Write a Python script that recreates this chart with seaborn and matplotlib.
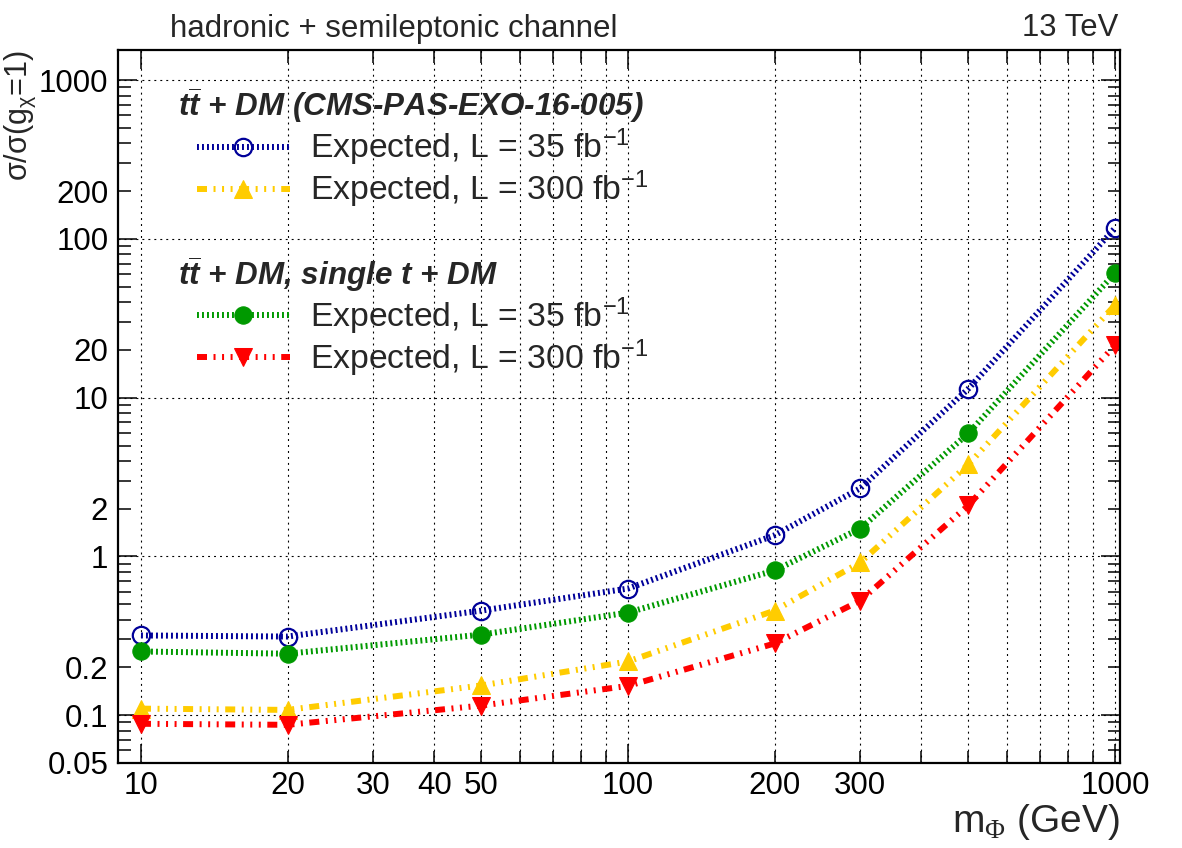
import numpy as np
import pandas as pd
import matplotlib
matplotlib.use("Agg")
import matplotlib.pyplot as plt
import seaborn as sns
from matplotlib.ticker import FixedLocator, FuncFormatter
from matplotlib.lines import Line2D

# ---------------- data ----------------
mass = [10, 20, 50, 100, 200, 300, 500, 1000]
tt_35 = [0.318, 0.313, 0.456, 0.628, 1.36, 2.69, 11.4, 117]
tt_300 = [0.110, 0.108, 0.154, 0.218, 0.456, 0.917, 3.80, 38.3]
comb_35 = [0.252, 0.244, 0.322, 0.443, 0.816, 1.50, 5.97, 61.0]
comb_300 = [0.0883, 0.087, 0.115, 0.153, 0.283, 0.527, 2.10, 21.4]

x_major = [10, 100, 1000]
x_minor = [20, 30, 40, 50, 60, 70, 80, 90, 200, 300, 400, 500, 600, 700, 800, 900]
x_minor_labels = [20, 30, 40, 50, 200, 300]
y_major = [0.1, 1, 10, 100, 1000]
y_minor = [0.05, 0.06, 0.07, 0.08, 0.09, 0.2, 0.3, 0.4, 0.5, 0.6, 0.7, 0.8, 0.9,
           2, 3, 4, 5, 6, 7, 8, 9, 20, 30, 40, 50, 60, 70, 80, 90,
           200, 300, 400, 500, 600, 700, 800, 900]
y_minor_labels = [0.05, 0.2, 2, 20, 200]

label_35 = "Expected, L = 35 fb$^{-1}$"
label_300 = "Expected, L = 300 fb$^{-1}$"
header1 = r"$t\overline{t}$ + DM (CMS-PAS-EXO-16-005)"
header2 = r"$t\overline{t}$ + DM, single t + DM"

# ---------------- style ----------------
sns.set_style("ticks")
plt.rcParams["font.family"] = ["Liberation Sans", "DejaVu Sans"]
plt.rcParams["mathtext.fontset"] = "custom"
plt.rcParams["mathtext.rm"] = "Liberation Serif"
plt.rcParams["mathtext.it"] = "Liberation Sans:italic"
plt.rcParams["mathtext.bf"] = "Liberation Sans:bold"
plt.rcParams["mathtext.default"] = "regular"
plt.rcParams["lines.scale_dashes"] = False

W, H = 1182, 848
fig = plt.figure(figsize=(W / 100, H / 100), dpi=100)
ax = fig.add_axes([118 / W, 1 - 763 / H, (1120 - 118) / W, (763 - 50) / H])

dotted = (0, (1.4, 2.2))
dashdot3 = (0, (7.2, 4.7, 1.44, 4.7, 1.44, 4.7, 1.44, 4.7))

blue = "#000099"
yellow = "#FFCC00"
green = "#009900"
red = "#FF0000"

lw = 4.3
ms = 12.5

sns.lineplot(x=mass, y=tt_35, ax=ax, color=blue, linestyle=dotted, lw=lw,
             marker="o", markersize=ms, markerfacecolor="none",
             markeredgecolor=blue, markeredgewidth=1.6, legend=False,
             estimator=None)
l_blue = ax.lines[-1]
sns.lineplot(x=mass, y=tt_300, ax=ax, color=yellow, linestyle=dashdot3, lw=lw,
             marker="^", markersize=ms, markerfacecolor=yellow,
             markeredgecolor=yellow, legend=False, estimator=None)
l_yellow = ax.lines[-1]
sns.lineplot(x=mass, y=comb_35, ax=ax, color=green, linestyle=dotted, lw=lw,
             marker="o", markersize=ms, markerfacecolor=green,
             markeredgecolor=green, legend=False, estimator=None)
l_green = ax.lines[-1]
sns.lineplot(x=mass, y=comb_300, ax=ax, color=red, linestyle=dashdot3, lw=lw,
             marker="v", markersize=ms, markerfacecolor=red,
             markeredgecolor=red, legend=False, estimator=None)
l_red = ax.lines[-1]

ax.set_xscale("log")
ax.set_yscale("log")
ax.set_xlim(8.97, 1024)
ax.set_ylim(0.05, 1550)

# ticks
ax.xaxis.set_major_locator(FixedLocator(x_major))
ax.xaxis.set_minor_locator(FixedLocator(x_minor))
ax.yaxis.set_major_locator(FixedLocator(y_major))
ax.yaxis.set_minor_locator(FixedLocator(y_minor))


def fmt_num(v):
    return ("%g" % v)


ax.xaxis.set_major_formatter(FuncFormatter(lambda v, p: fmt_num(v)))
ax.xaxis.set_minor_formatter(FuncFormatter(
    lambda v, p: fmt_num(v) if any(abs(v - t) < 1e-6 * t for t in x_minor_labels) else ""))
ax.yaxis.set_major_formatter(FuncFormatter(lambda v, p: fmt_num(v)))
ax.yaxis.set_minor_formatter(FuncFormatter(
    lambda v, p: fmt_num(v) if any(abs(v - t) < 1e-6 * t for t in y_minor_labels) else ""))

tick_fs = 22.5
ax.tick_params(which="both", direction="in", top=True, right=True,
               labelsize=tick_fs, width=1.1, color="black", labelcolor="black")
ax.tick_params(which="major", length=14)
ax.tick_params(which="minor", length=9)
ax.tick_params(axis="x", which="both", pad=6)
ax.tick_params(axis="y", which="both", pad=7)

for s in ax.spines.values():
    s.set_linewidth(1.6)
    s.set_color("black")

grid_kw = dict(color="black", linestyle=(0, (1.4, 2.9)), linewidth=0.8)
ax.xaxis.grid(True, which="both", **grid_kw)
ax.yaxis.grid(True, which="major", **grid_kw)
ax.yaxis.grid(False, which="minor")
ax.set_axisbelow(True)

# axis labels
ax.set_xlabel(r"m$_{\mathrm{\Phi}}$ (GeV)", fontsize=28, loc="right")
ax.xaxis.label.set_verticalalignment("baseline")
ax.xaxis.set_label_coords(1.0, (763 - 832) / 713)
ax.set_ylabel("σ/σ(g$_{χ}$=1)", fontsize=22, loc="top")
ax.yaxis.set_label_coords(-0.080, 1.0)

# top texts
fig.text(170 / W, 1 - 37 / H, "hadronic + semileptonic channel", fontsize=22.5,
         ha="left", va="baseline")
fig.text(1118 / W, 1 - 36 / H, "13 TeV", fontsize=22.3, ha="right", va="baseline")

# legend
blank = Line2D([], [], linestyle="none")
handles = [blank, l_blue, l_yellow, blank, blank, l_green, l_red]
labels = [label_35, label_35, label_300, label_35, label_35, label_35, label_300]
leg_fs = 24.3
leg = ax.legend(handles, labels, loc="upper left",
                bbox_to_anchor=((197 - 118) / 1002, (763 - 84.6) / 713),
                frameon=False, fontsize=leg_fs, borderpad=0, borderaxespad=0,
                handlelength=2.75, handletextpad=0.6, labelspacing=0.02)
texts = leg.get_texts()
for i in (0, 3, 4):
    texts[i].set_alpha(0)

fig.canvas.draw()
inv = fig.transFigure.inverted()
for i, hdr in ((0, header1), (4, header2)):
    bb = texts[i].get_window_extent()
    yc = (bb.y0 + bb.y1) / 2
    xf, yf = inv.transform((178, yc))
    fig.text(178 / W, yf, hdr, fontsize=22.6, fontweight="bold", fontstyle="italic",
             ha="left", va="center")

fig.savefig("out.png", dpi=100)
